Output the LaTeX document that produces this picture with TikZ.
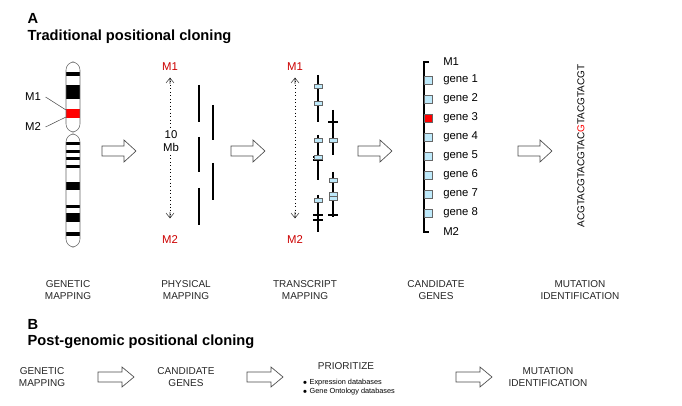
\documentclass[tikz,border=0pt]{standalone}
\usepackage{fontspec}
\setmainfont{Liberation Sans}
\begin{document}
\begin{tikzpicture}[x=0.75pt,y=-0.75pt,
  lab/.style={font=\fontsize{7.5}{9}\selectfont,align=center,text=black!85},
  mk/.style={font=\fontsize{8.5}{10}\selectfont,text=red!80!black},
  gn/.style={font=\fontsize{8.5}{10}\selectfont,anchor=west,inner sep=0},
  harrow/.style={draw=black!70,fill=white,line width=0.5pt},
  gbox/.style={draw=black!60,fill=cyan!25,line width=0.3pt},
  bar/.style={line width=1.3pt},
  dotl/.style={dotted,line width=0.6pt}]
\useasboundingbox (0,0) rectangle (682,406);
\node[anchor=west,font=\bfseries\fontsize{11}{13}\selectfont] (A) at (23,18) {A};
\node[anchor=west,font=\bfseries\fontsize{11}{13}\selectfont] (tA) at (23,37) {Traditional positional cloning};
% chromosome
\fill[black] (66,72) rectangle (80,76); \fill[black] (66,85) rectangle (80,99);
\fill[red] (66,109) rectangle (80,118);
\foreach \a/\b in {142/145,150/153,157/160,165/168,182/190,205/208,213/222,232/236}{\fill[black] (66,\a) rectangle (80,\b);}
\draw[black!60,rounded corners=6pt] (66,62) rectangle (80,132);
\draw[black!60,rounded corners=6pt] (66,134) rectangle (80,247);
\node[font=\fontsize{8.5}{10}\selectfont] (m1c) at (33,97) {M1};
\node[font=\fontsize{8.5}{10}\selectfont] (m2c) at (33,127) {M2};
\draw[black!70] (m1c.east) -- (66,110);
\draw[black!70] (m2c.east) -- (66,117);
% hollow arrows
\foreach \x in {102,231,358,518}{
 \draw[harrow] (\x,146) -- (\x+22,146) -- (\x+22,140) -- (\x+34,151) -- (\x+22,162) -- (\x+22,156) -- (\x,156) -- cycle;}
% physical
\node[mk] (pm1) at (170,67) {M1}; \node[mk] (pm2) at (170,240) {M2};
\coordinate (pt) at (170,78); \coordinate (pb) at (170,218);
\draw[dotl] (pt) -- (170,128) (170,155) -- (pb);
\draw[black!80] (166,83) -- (170,78) -- (174,83) (170,78)--(170,84);
\draw[black!80] (166,213) -- (170,218) -- (174,213) (170,218)--(170,212);
\node[font=\fontsize{8.5}{10}\selectfont,align=center] (mb) at (171,141) {10\\Mb};
\draw[bar] (199,85)--(199,122) (213,105)--(213,140) (199,137)--(199,172) (213,163)--(213,200) (199,188)--(199,225);
% transcript
\node[mk] (tm1) at (295,67) {M1}; \node[mk] (tm2) at (295,240) {M2};
\draw[dotl] (295,78) -- (295,218);
\draw[black!80] (291,83) -- (295,78) -- (299,83) (295,78)--(295,84);
\draw[black!80] (291,213) -- (295,218) -- (299,213) (295,218)--(295,212);
\draw[line width=1pt] (318,75)--(318,122) (318,135)--(318,180) (318,195)--(318,232) (333,110)--(333,155) (333,172)--(333,217);
\foreach \x/\y in {318/157,318/160,318/215,318/220,333/122,333/215}{\draw[line width=1pt] (\x-5,\y)--(\x+5,\y);}
\foreach \x/\y in {318/86,318/103,318/140,318/157,318/200,333/140,333/180,333/194,333/198}{\draw[gbox] (\x-4,\y-2) rectangle (\x+4,\y+2);}
% genes
\draw[line width=0.8pt] (429,62)--(424,62)--(424,232)--(429,232);
\node[gn] (gm1) at (443,62) {M1};
\foreach \i/\y in {1/80,2/99,3/118,4/137,5/156,6/175,7/194,8/213}{
  \ifnum\i=3 \draw[draw=black!60,fill=red] (424,\y-4) rectangle (432,\y+4);
  \else \draw[gbox] (424,\y-4) rectangle (432,\y+4); \fi
  \node[gn] (g\i) at (443,\y) {gene \i};}
\node[gn] (gm2) at (443,232) {M2};
\node[rotate=90,font=\fontsize{7.5}{8}\selectfont] (seq) at (581,146) {ACGTACGTACGTAC{\color{red}G}TACGTACGT};
% labels
\node[lab] (l1) at (68,290) {GENETIC\\MAPPING};
\node[lab] (l2) at (186,290) {PHYSICAL\\MAPPING};
\node[lab] (l3) at (305,290) {TRANSCRIPT\\MAPPING};
\node[lab] (l4) at (436,290) {CANDIDATE\\GENES};
\node[lab] (l5) at (580,290) {MUTATION\\IDENTIFICATION};
% B
\node[anchor=west,font=\bfseries\fontsize{11}{13}\selectfont] (B) at (23,324) {B};
\node[anchor=west,font=\bfseries\fontsize{11}{13}\selectfont] (tB) at (23,342) {Post-genomic positional cloning};
\node[lab] (b1) at (42,377) {GENETIC\\MAPPING};
\node[lab] (b2) at (186,377) {CANDIDATE\\GENES};
\node[lab] (b3) at (346,366) {PRIORITIZE};
\node[anchor=west,font=\fontsize{5.5}{7}\selectfont,align=left] (b3b) at (298,387) {$\bullet$ Expression databases\\$\bullet$ Gene Ontology databases};
\node[lab] (b4) at (548,377) {MUTATION\\IDENTIFICATION};
\foreach \x in {98,247,456}{
 \draw[harrow] (\x,372) -- (\x+24,372) -- (\x+24,367) -- (\x+36,377) -- (\x+24,387) -- (\x+24,382) -- (\x,382) -- cycle;}
\end{tikzpicture}
\end{document}
